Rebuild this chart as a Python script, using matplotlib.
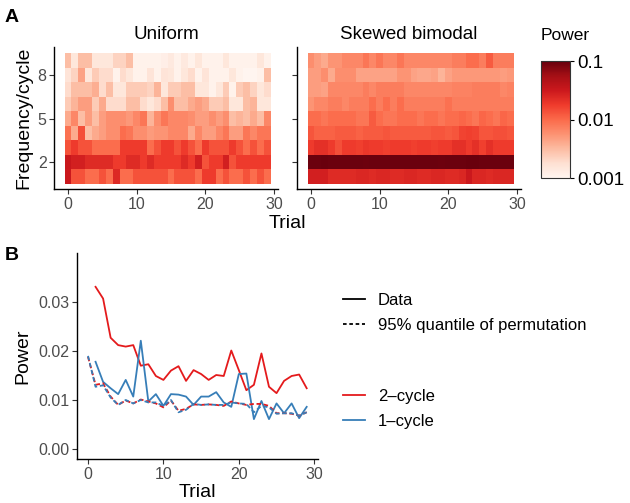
import numpy as np
import matplotlib
matplotlib.use("Agg")
import matplotlib.pyplot as plt
from matplotlib.colors import LogNorm
from matplotlib.lines import Line2D

plt.rcParams['font.family'] = ['Liberation Sans', 'DejaVu Sans']

# ---- panel A: power per trial (columns 0..29) and frequency (rows 1..9) ----
trials = np.arange(30)
freqs = np.arange(1, 10)

uniform_power = [
    # freq 1
    [0.032, 0.0135, 0.0135, 0.0095, 0.0095, 0.0135, 0.0095, 0.024, 0.0095, 0.0095, 0.0135, 0.0135, 0.0135, 0.0135, 0.0135,
     0.0095, 0.0135, 0.0135, 0.0135, 0.0095, 0.018, 0.018, 0.0095, 0.0135, 0.0095, 0.0095, 0.0135, 0.0095, 0.0135, 0.0095],
    # freq 2
    [0.033, 0.028, 0.028, 0.023, 0.023, 0.023, 0.023, 0.018, 0.018, 0.023, 0.023, 0.018, 0.023, 0.018, 0.018,
     0.018, 0.018, 0.023, 0.018, 0.028, 0.0135, 0.018, 0.018, 0.028, 0.0135, 0.018, 0.018, 0.018, 0.018, 0.018],
    # freq 3
    [0.0135, 0.018, 0.0135, 0.0135, 0.0095, 0.0095, 0.0095, 0.0095, 0.018, 0.018, 0.018, 0.018, 0.0095, 0.0135, 0.018,
     0.018, 0.0135, 0.018, 0.0135, 0.0095, 0.018, 0.0135, 0.0135, 0.0135, 0.018, 0.0135, 0.0095, 0.0135, 0.0095, 0.0135],
    # freq 4
    [0.009, 0.004, 0.014, 0.003, 0.004, 0.0048, 0.006, 0.006, 0.0095, 0.0085, 0.006, 0.006, 0.005, 0.0055, 0.0055,
     0.0065, 0.0065, 0.0065, 0.004, 0.0065, 0.0048, 0.0048, 0.0065, 0.0085, 0.0048, 0.0048, 0.0085, 0.0065, 0.0085, 0.0085],
    # freq 5
    [0.004, 0.0065, 0.003, 0.0048, 0.003, 0.0048, 0.006, 0.006, 0.006, 0.0052, 0.0065, 0.0085, 0.0035, 0.006, 0.0085,
     0.0065, 0.0065, 0.0065, 0.006, 0.0048, 0.0048, 0.006, 0.0048, 0.006, 0.003, 0.0035, 0.003, 0.004, 0.003, 0.0065],
    # freq 6
    [0.0025, 0.0035, 0.0048, 0.0048, 0.0025, 0.004, 0.0019, 0.0019, 0.0019, 0.003, 0.003, 0.0019, 0.0015, 0.0019, 0.003,
     0.006, 0.003, 0.003, 0.004, 0.0048, 0.004, 0.0025, 0.0025, 0.003, 0.0015, 0.0015, 0.003, 0.0035, 0.0015, 0.0015],
    # freq 7
    [0.0019, 0.003, 0.003, 0.003, 0.0038, 0.0019, 0.003, 0.0015, 0.0015, 0.0025, 0.0025, 0.0025, 0.0022, 0.0035, 0.0015,
     0.0025, 0.0025, 0.003, 0.003, 0.0015, 0.0015, 0.0011, 0.0015, 0.0025, 0.0011, 0.0025, 0.003, 0.0022, 0.0015, 0.0019],
    # freq 8
    [0.0016, 0.0022, 0.0045, 0.0015, 0.0025, 0.0019, 0.0019, 0.0011, 0.0019, 0.0015, 0.0011, 0.0011, 0.0016, 0.0011, 0.0016,
     0.0015, 0.0011, 0.0015, 0.0019, 0.0011, 0.0016, 0.0011, 0.0011, 0.0011, 0.0015, 0.0011, 0.001, 0.001, 0.0011, 0.003],
    # freq 9
    [0.003, 0.0015, 0.003, 0.003, 0.0015, 0.0015, 0.0015, 0.0022, 0.0022, 0.003, 0.0011, 0.0011, 0.0011, 0.0011, 0.0012,
     0.0014, 0.0011, 0.0014, 0.0011, 0.0015, 0.0011, 0.0011, 0.0011, 0.0015, 0.0011, 0.0011, 0.0011, 0.0011, 0.0015, 0.0011],
]

skewed_power = [
    # freq 1
    [0.028, 0.028, 0.028, 0.023, 0.023, 0.023, 0.023, 0.025, 0.025, 0.023, 0.025, 0.025, 0.023, 0.023, 0.025,
     0.025, 0.023, 0.023, 0.025, 0.025, 0.023, 0.023, 0.025, 0.032, 0.025, 0.025, 0.023, 0.025, 0.025, 0.025],
    # freq 2
    [0.095, 0.095, 0.097, 0.095, 0.095, 0.096, 0.095, 0.095, 0.094, 0.095, 0.095, 0.096, 0.095, 0.095, 0.095,
     0.095, 0.096, 0.095, 0.095, 0.094, 0.095, 0.095, 0.096, 0.098, 0.097, 0.095, 0.095, 0.096, 0.095, 0.095],
    # freq 3
    [0.018, 0.021, 0.021, 0.018, 0.014, 0.018, 0.018, 0.017, 0.019, 0.018, 0.018, 0.017, 0.018, 0.018, 0.018,
     0.017, 0.018, 0.018, 0.017, 0.018, 0.018, 0.021, 0.021, 0.018, 0.021, 0.017, 0.021, 0.018, 0.018, 0.018],
    # freq 4
    [0.013, 0.011, 0.011, 0.011, 0.012, 0.012, 0.012, 0.011, 0.012, 0.012, 0.012, 0.013, 0.012, 0.012, 0.012,
     0.012, 0.012, 0.012, 0.013, 0.013, 0.012, 0.013, 0.016, 0.017, 0.016, 0.013, 0.013, 0.014, 0.014, 0.013],
    # freq 5
    [0.0095, 0.0095, 0.0085, 0.0095, 0.0095, 0.0095, 0.0095, 0.0085, 0.0085, 0.012, 0.0095, 0.0085, 0.0085, 0.0095, 0.0095,
     0.0095, 0.0085, 0.0095, 0.0095, 0.0085, 0.0095, 0.0095, 0.0105, 0.0095, 0.0085, 0.0105, 0.0095, 0.0085, 0.0105, 0.0095],
    # freq 6
    [0.0055, 0.0065, 0.0065, 0.0075, 0.0075, 0.0065, 0.0075, 0.0075, 0.0075, 0.0095, 0.0075, 0.0095, 0.0075, 0.0095, 0.0075,
     0.0075, 0.0075, 0.0075, 0.0075, 0.0075, 0.009, 0.0075, 0.0075, 0.0075, 0.0075, 0.0075, 0.0075, 0.0075, 0.0075, 0.0075],
    # freq 7
    [0.0048, 0.0048, 0.0045, 0.0065, 0.0065, 0.0065, 0.0065, 0.0065, 0.0075, 0.0065, 0.0075, 0.0075, 0.0075, 0.0075, 0.0065,
     0.0065, 0.0065, 0.0065, 0.0065, 0.0065, 0.0065, 0.007, 0.007, 0.007, 0.0075, 0.0075, 0.0075, 0.0075, 0.0065, 0.007],
    # freq 8
    [0.0048, 0.0048, 0.006, 0.004, 0.006, 0.006, 0.006, 0.0045, 0.0045, 0.0045, 0.0045, 0.0045, 0.0045, 0.0055, 0.0055,
     0.0045, 0.0042, 0.0042, 0.0045, 0.0035, 0.0045, 0.0052, 0.0052, 0.0052, 0.0052, 0.0052, 0.0052, 0.0052, 0.0048, 0.0052],
    # freq 9
    [0.006, 0.0048, 0.004, 0.0055, 0.0055, 0.0065, 0.0065, 0.0065, 0.0085, 0.0065, 0.0085, 0.0065, 0.0065, 0.0085, 0.0065,
     0.0065, 0.0065, 0.0065, 0.0065, 0.0065, 0.0065, 0.0075, 0.0075, 0.0095, 0.0095, 0.0075, 0.012, 0.0075, 0.0075, 0.0075],
]

# ---- panel B: power of 2-cycle and 1-cycle over trials ----
data_trials = np.arange(1, 30)
perm_trials = np.arange(0, 30)
red_data = [0.0331, 0.0307, 0.0227, 0.0212, 0.0209, 0.0212, 0.0170, 0.0173, 0.0149, 0.0141,
            0.0160, 0.0169, 0.0139, 0.0161, 0.0153, 0.0141, 0.0151, 0.0149, 0.0201, 0.0161,
            0.0120, 0.0131, 0.0195, 0.0127, 0.0114, 0.0139, 0.0149, 0.0152, 0.0124]
blue_data = [0.0178, 0.0137, 0.0124, 0.0112, 0.0141, 0.0107, 0.0221, 0.0097, 0.0112, 0.0088,
             0.0112, 0.0111, 0.0107, 0.0090, 0.0107, 0.0107, 0.0116, 0.0095, 0.0086, 0.0153,
             0.0154, 0.0061, 0.0098, 0.0061, 0.0093, 0.0073, 0.0093, 0.0063, 0.0086]
red_perm = [0.0188, 0.0131, 0.0134, 0.0107, 0.0090, 0.0099, 0.0093, 0.0101, 0.0097, 0.0093,
            0.0085, 0.0099, 0.0078, 0.0082, 0.0091, 0.0090, 0.0091, 0.0090, 0.0088, 0.0097,
            0.0093, 0.0090, 0.0092, 0.0092, 0.0088, 0.0073, 0.0073, 0.0072, 0.0068, 0.0075]
blue_perm = [0.0190, 0.0127, 0.0130, 0.0105, 0.0090, 0.0100, 0.0093, 0.0100, 0.0095, 0.0095,
             0.0088, 0.0100, 0.0075, 0.0080, 0.0092, 0.0090, 0.0091, 0.0090, 0.0090, 0.0095,
             0.0093, 0.0092, 0.0075, 0.0088, 0.0085, 0.0072, 0.0073, 0.0073, 0.0068, 0.0075]

RED = '#e41a1c'
BLUE = '#377eb8'
TICK_GREY = '#4d4d4d'

W, H = 630, 503
fig = plt.figure(figsize=(W / 100, H / 100), dpi=100)

def box(x0, y0, x1, y1):
    # pixel box (top-left origin) -> figure fraction rect
    return [x0 / W, 1 - y1 / H, (x1 - x0) / W, (y1 - y0) / H]

def style_axis(ax):
    for s in ['top', 'right']:
        ax.spines[s].set_visible(False)
    for s in ['left', 'bottom']:
        ax.spines[s].set_linewidth(1.0)
        ax.spines[s].set_color('black')
    ax.tick_params(direction='out', length=3.5, width=0.8, color='#333333',
                   labelsize=11.5, labelcolor=TICK_GREY, pad=2)

norm = LogNorm(vmin=0.001, vmax=0.1)
x_edges = np.arange(-0.5, 30.5, 1)
y_edges = np.arange(0.5, 10.5, 1)

ax_u = fig.add_axes(box(54.3, 47, 277.5, 189))
ax_s = fig.add_axes(box(297.3, 47, 520.5, 189))
mesh = None
for ax, vals, title in [(ax_u, uniform_power, 'Uniform'), (ax_s, skewed_power, 'Skewed bimodal')]:
    mesh = ax.pcolormesh(x_edges, y_edges, np.array(vals), cmap='Reds', norm=norm,
                         shading='flat', edgecolors='face', linewidth=0)
    ax.set_xlim(-2, 30.5)
    ax.set_ylim(0.13, 9.94)
    ax.set_xticks([0, 10, 20, 30])
    ax.set_yticks([2, 5, 8])
    style_axis(ax)
    ax.set_title(title, fontsize=13.5, pad=6)
ax_s.set_yticklabels([])
ax_u.set_ylabel('Frequency/cycle', fontsize=14, labelpad=4)
fig.text(287 / W, 1 - 224 / H, 'Trial', fontsize=14, ha='center', va='center')

cax = fig.add_axes(box(541, 61, 570, 178))
cb = fig.colorbar(mesh, cax=cax, ticks=[0.001, 0.01, 0.1])
cb.ax.set_yticklabels(['0.001', '0.01', '0.1'])
cb.ax.minorticks_off()
cb.ax.tick_params(labelsize=13.5, length=3, width=0.8, color='black', pad=2)
cb.outline.set_edgecolor('#333333')
cb.outline.set_linewidth(0.8)
fig.text(541 / W, 1 - 35 / H, 'Power', fontsize=12.5, ha='left', va='center')

# ---- panel B ----
ax_b = fig.add_axes(box(77, 253, 318, 459))
ax_b.plot(data_trials, red_data, color=RED, lw=1.3)
ax_b.plot(data_trials, blue_data, color=BLUE, lw=1.3)
ax_b.plot(perm_trials, red_perm, color=RED, lw=1.3, dashes=(2.5, 1.5))
ax_b.plot(perm_trials, blue_perm, color=BLUE, lw=1.3, dashes=(2.5, 1.5))
ax_b.set_xlim(-1.46, 30.5)
ax_b.set_ylim(-0.00204, 0.040)
ax_b.set_xticks([0, 10, 20, 30])
ax_b.set_yticks([0.0, 0.01, 0.02, 0.03])
ax_b.set_yticklabels(['0.00', '0.01', '0.02', '0.03'])
style_axis(ax_b)
ax_b.set_xlabel('Trial', fontsize=14, labelpad=2)
ax_b.set_ylabel('Power', fontsize=14, labelpad=5)

leg_kw = dict(loc='upper left', frameon=False, fontsize=12, handlelength=1.32,
              handletextpad=0.78, labelspacing=0.62, borderpad=0, borderaxespad=0)
style_handles = [Line2D([], [], color='black', lw=1.3),
                 Line2D([], [], color='black', lw=1.3, dashes=(2.0, 1.5))]
fig.legend(style_handles, ['Data', '95% quantile of permutation'],
           bbox_to_anchor=(343 / W, 1 - 292.5 / H), **leg_kw)
color_handles = [Line2D([], [], color=RED, lw=1.3), Line2D([], [], color=BLUE, lw=1.3)]
fig.legend(color_handles, ['2\u2013cycle', '1\u2013cycle'],
           bbox_to_anchor=(343 / W, 1 - 388.5 / H), **leg_kw)

fig.text(12 / W, 1 - 18 / H, 'A', fontsize=14, fontweight='bold', ha='center', va='center')
fig.text(12 / W, 1 - 255 / H, 'B', fontsize=14, fontweight='bold', ha='center', va='center')

fig.savefig('out.png', dpi=100)
